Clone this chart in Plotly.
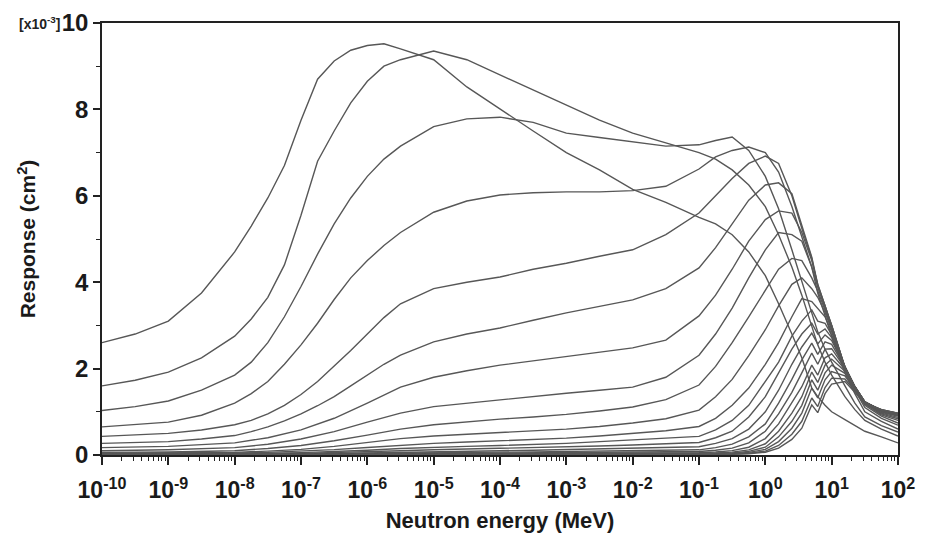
import plotly.graph_objects as go

# log10 of neutron energy (MeV): fine grid (used by the six upper curves)
LOG_E_FINE = [-10, -9.5, -9, -8.5, -8, -7.75, -7.5, -7.25, -7, -6.75, -6.5, -6.25, -6, -5.75,
              -5.5, -5, -4.5, -4, -3.5, -3, -2.5, -2, -1.5, -1, -0.75, -0.5, -0.25, 0,
              0.2, 0.4, 0.55, 0.7, 0.79, 0.9, 1.0, 1.2, 1.35, 1.5, 1.75, 2.0]
# coarser grid (used by the lower curves)
LOG_E = [-10, -9, -8, -7.5, -7, -6.5, -6, -5.5, -5, -4.5, -4, -3.5, -3, -2.5, -2, -1.5,
         -1, -0.75, -0.5, -0.25, 0, 0.2, 0.4, 0.55, 0.7, 0.79, 0.9, 1.0, 1.2, 1.35, 1.5, 1.75, 2.0]

# Responses in units of 1e-3 cm^2
C1 = [2.60, 2.80, 3.10, 3.75, 4.70, 5.30, 5.95, 6.70, 7.75, 8.70, 9.12, 9.37, 9.48, 9.52,
      9.40, 9.15, 8.52, 8.00, 7.50, 7.00, 6.60, 6.15, 5.85, 5.50, 5.35, 5.10, 4.70, 4.15,
      3.50, 2.80, 2.25, 1.55, 1.35, 1.15, 1.00, 0.82, 0.68, 0.55, 0.42, 0.28]
C2 = [1.60, 1.73, 1.92, 2.25, 2.75, 3.15, 3.65, 4.40, 5.55, 6.80, 7.50, 8.15, 8.65, 9.00,
      9.15, 9.35, 9.15, 8.80, 8.45, 8.10, 7.75, 7.45, 7.22, 7.00, 6.85, 6.60, 6.25, 5.75,
      5.10, 4.35, 3.70, 2.95, 2.55, 2.15, 1.85, 1.35, 1.05, 0.80, 0.60, 0.44]
C3 = [1.03, 1.12, 1.25, 1.50, 1.85, 2.15, 2.60, 3.20, 3.90, 4.65, 5.35, 5.95, 6.45, 6.85,
      7.15, 7.60, 7.78, 7.82, 7.70, 7.45, 7.35, 7.25, 7.15, 7.18, 7.28, 7.36, 7.05, 6.45,
      5.70, 4.75, 4.00, 3.25, 2.85, 2.45, 2.15, 1.60, 1.20, 0.88, 0.68, 0.53]
C4 = [0.65, 0.70, 0.76, 0.92, 1.20, 1.42, 1.70, 2.10, 2.55, 3.05, 3.60, 4.10, 4.50, 4.85,
      5.15, 5.62, 5.88, 6.02, 6.07, 6.09, 6.09, 6.12, 6.22, 6.62, 6.90, 7.05, 7.13, 7.00,
      6.55, 5.75, 5.05, 4.35, 3.75, 3.25, 2.75, 1.90, 1.42, 1.00, 0.78, 0.60]
C5 = [0.43, 0.46, 0.50, 0.58, 0.70, 0.80, 0.95, 1.15, 1.40, 1.70, 2.05, 2.42, 2.80, 3.18,
      3.50, 3.85, 4.00, 4.12, 4.30, 4.44, 4.60, 4.75, 5.10, 5.60, 6.00, 6.40, 6.75, 6.92,
      6.75, 6.00, 5.25, 4.55, 3.90, 3.45, 2.95, 1.98, 1.50, 1.10, 0.85, 0.69]
C6 = [0.27, 0.29, 0.31, 0.37, 0.45, 0.54, 0.65, 0.79, 0.95, 1.14, 1.35, 1.60, 1.85, 2.10,
      2.31, 2.62, 2.80, 2.94, 3.12, 3.29, 3.44, 3.59, 3.85, 4.33, 4.80, 5.35, 5.90, 6.25,
      6.30, 6.05, 5.30, 4.58, 3.95, 3.45, 3.00, 2.02, 1.55, 1.15, 0.90, 0.74]

C7 = [0.17, 0.20, 0.28, 0.40, 0.58, 0.85, 1.20, 1.57, 1.80, 1.95, 2.08, 2.18, 2.27, 2.37, 2.48, 2.66, 3.22, 3.70, 4.30, 4.95, 5.45, 5.65, 5.60, 5.15, 4.50, 3.95, 3.45, 3.00, 2.02, 1.56, 1.18, 0.93, 0.80]
C8 = [0.10, 0.12, 0.17, 0.25, 0.37, 0.54, 0.76, 0.97, 1.12, 1.20, 1.27, 1.35, 1.43, 1.50, 1.57, 1.80, 2.31, 2.80, 3.40, 4.10, 4.75, 5.15, 5.10, 4.95, 4.35, 3.90, 3.40, 3.00, 2.03, 1.57, 1.20, 0.95, 0.84]
C9 = [0.06, 0.07, 0.10, 0.15, 0.22, 0.33, 0.46, 0.60, 0.70, 0.77, 0.83, 0.88, 0.94, 1.02, 1.11, 1.28, 1.62, 2.05, 2.60, 3.20, 3.80, 4.30, 4.55, 4.50, 4.10, 3.80, 3.35, 2.95, 2.03, 1.58, 1.21, 0.97, 0.87]
C10 = [0.04, 0.045, 0.06, 0.09, 0.13, 0.20, 0.29, 0.38, 0.44, 0.48, 0.52, 0.56, 0.60, 0.66, 0.74, 0.84, 1.04, 1.35, 1.75, 2.30, 2.90, 3.45, 3.95, 4.10, 3.85, 3.65, 3.30, 2.90, 2.04, 1.58, 1.22, 0.99, 0.90]
C11 = [0.03, 0.034, 0.045, 0.06, 0.085, 0.125, 0.175, 0.23, 0.27, 0.30, 0.33, 0.36, 0.39, 0.44, 0.50, 0.56, 0.66, 0.85, 1.15, 1.55, 2.10, 2.60, 3.20, 3.62, 3.55, 3.40, 3.20, 2.85, 2.04, 1.58, 1.22, 1.00, 0.91]
C12 = [0.02, 0.022, 0.03, 0.04, 0.055, 0.08, 0.11, 0.15, 0.18, 0.20, 0.22, 0.24, 0.27, 0.31, 0.35, 0.39, 0.43, 0.58, 0.80, 1.15, 1.70, 2.15, 2.75, 3.10, 3.36, 3.10, 3.05, 2.78, 2.04, 1.58, 1.23, 1.01, 0.92]
C13 = [0.013, 0.015, 0.02, 0.027, 0.037, 0.053, 0.075, 0.10, 0.12, 0.135, 0.15, 0.165, 0.185, 0.21, 0.23, 0.26, 0.29, 0.40, 0.55, 0.88, 1.35, 1.90, 2.45, 2.80, 3.05, 2.80, 2.92, 2.72, 2.04, 1.58, 1.23, 1.02, 0.93]
C14 = [0.009, 0.010, 0.013, 0.018, 0.025, 0.035, 0.05, 0.068, 0.08, 0.09, 0.10, 0.11, 0.125, 0.14, 0.16, 0.175, 0.19, 0.27, 0.38, 0.60, 1.00, 1.50, 2.10, 2.50, 2.82, 2.57, 2.78, 2.65, 2.04, 1.58, 1.23, 1.02, 0.93]
C15 = [0.006, 0.007, 0.009, 0.012, 0.016, 0.023, 0.033, 0.045, 0.053, 0.06, 0.066, 0.073, 0.082, 0.092, 0.10, 0.11, 0.12, 0.17, 0.25, 0.42, 0.72, 1.20, 1.75, 2.20, 2.59, 2.33, 2.62, 2.56, 2.03, 1.58, 1.23, 1.03, 0.94]
C16 = [0.004, 0.0045, 0.006, 0.008, 0.011, 0.015, 0.021, 0.029, 0.034, 0.038, 0.042, 0.047, 0.052, 0.058, 0.065, 0.072, 0.08, 0.11, 0.16, 0.28, 0.55, 0.95, 1.45, 1.90, 2.36, 2.10, 2.45, 2.46, 2.01, 1.57, 1.23, 1.03, 0.94]
C17 = [0.003, 0.0033, 0.004, 0.0055, 0.0075, 0.010, 0.014, 0.019, 0.022, 0.025, 0.028, 0.031, 0.034, 0.038, 0.042, 0.047, 0.052, 0.07, 0.10, 0.18, 0.38, 0.72, 1.20, 1.58, 2.08, 1.85, 2.25, 2.34, 1.98, 1.56, 1.23, 1.04, 0.95]
C18 = [0.002, 0.0022, 0.0028, 0.0037, 0.005, 0.0068, 0.009, 0.012, 0.014, 0.016, 0.018, 0.020, 0.022, 0.025, 0.028, 0.031, 0.035, 0.047, 0.067, 0.12, 0.26, 0.55, 0.97, 1.35, 1.92, 1.68, 2.08, 2.22, 1.94, 1.55, 1.22, 1.04, 0.95]
C19 = [0.0015, 0.0017, 0.002, 0.0027, 0.0036, 0.005, 0.0066, 0.009, 0.010, 0.011, 0.012, 0.013, 0.015, 0.017, 0.019, 0.021, 0.024, 0.032, 0.046, 0.085, 0.18, 0.42, 0.78, 1.15, 1.74, 1.50, 1.90, 2.08, 1.89, 1.53, 1.22, 1.04, 0.96]
C20 = [0.001, 0.0011, 0.0014, 0.0018, 0.0024, 0.0033, 0.0045, 0.006, 0.007, 0.0078, 0.0085, 0.0093, 0.010, 0.011, 0.013, 0.014, 0.016, 0.022, 0.032, 0.06, 0.13, 0.31, 0.62, 0.97, 1.55, 1.32, 1.74, 1.93, 1.83, 1.51, 1.21, 1.05, 0.96]
C21 = [0.0007, 0.0008, 0.001, 0.0013, 0.0017, 0.0023, 0.003, 0.004, 0.0047, 0.0052, 0.0057, 0.0062, 0.0068, 0.0075, 0.0085, 0.0095, 0.011, 0.015, 0.022, 0.042, 0.09, 0.22, 0.48, 0.78, 1.32, 1.12, 1.56, 1.78, 1.76, 1.48, 1.20, 1.05, 0.97]
C22 = [0.0005, 0.0006, 0.0007, 0.0009, 0.0012, 0.0016, 0.0021, 0.0028, 0.0033, 0.0037, 0.004, 0.0044, 0.0048, 0.0053, 0.006, 0.0067, 0.0075, 0.01, 0.015, 0.03, 0.065, 0.16, 0.36, 0.62, 1.16, 0.98, 1.42, 1.64, 1.70, 1.45, 1.19, 1.05, 0.97]

UPPER = [C1, C2, C3, C4, C5, C6]
LOWER = [C7, C8, C9, C10, C11, C12, C13, C14, C15, C16, C17, C18, C19, C20, C21, C22]

X_TICK_EXP = list(range(-10, 3))
Y_TICKS = [0, 2, 4, 6, 8, 10]

fig = go.Figure()
for grid, group in ((LOG_E_FINE, UPPER), (LOG_E, LOWER)):
    energy = [10 ** v for v in grid]
    for c in group:
        fig.add_trace(go.Scatter(x=energy, y=c, mode="lines",
                                 line=dict(color="#575757", width=1.4),
                                 showlegend=False, hoverinfo="skip"))

minor_vals = [m * 10 ** e for e in range(-10, 2) for m in range(2, 10)]

bold = dict(family="Liberation Sans, Arial, sans-serif", color="#1a1a1a", weight="bold")

fig.update_layout(
    width=932, height=537,
    margin=dict(l=102, r=34, t=23, b=82),
    paper_bgcolor="white", plot_bgcolor="white",
    showlegend=False,
)
fig.update_xaxes(
    type="log", range=[-10, 2], automargin=False,
    tickmode="array",
    tickvals=[10 ** e for e in X_TICK_EXP],
    ticktext=[f"10<sup>{e}</sup>" for e in X_TICK_EXP],
    ticks="outside", ticklen=8, tickwidth=1.5, tickcolor="#222",
    ticklabelstandoff=6,
    minor=dict(tickmode="array", tickvals=minor_vals, ticks="outside",
               ticklen=4, tickwidth=1.2, tickcolor="#222"),
    showline=True, linecolor="#222", linewidth=1.6, mirror=True,
    showgrid=False, zeroline=False,
    tickfont=dict(size=23, **bold),
    title=dict(text="Neutron energy (MeV)", font=dict(size=22, **bold), standoff=10),
)
fig.update_yaxes(
    range=[0, 10], automargin=False,
    tickmode="array", tickvals=Y_TICKS, ticktext=[str(v) for v in Y_TICKS],
    ticks="outside", ticklen=7, tickwidth=1.5, tickcolor="#222",
    minor=dict(dtick=1, ticks="outside", ticklen=4, tickwidth=1.2, tickcolor="#222"),
    showline=True, linecolor="#222", linewidth=1.6, mirror=True,
    showgrid=False, zeroline=False,
    tickfont=dict(size=24, **bold),
    title=dict(text="Response (cm<sup>2</sup>)", font=dict(size=21, **bold), standoff=20),
)
fig.add_annotation(
    text="[x10<sup>-3</sup>]", xref="paper", yref="paper", x=-0.05, y=1.0,
    xanchor="right", yanchor="middle", showarrow=False,
    font=dict(family="Liberation Sans, Arial, sans-serif", size=14, color="#222", weight="bold"),
)

fig.write_html("out.html", config={"displayModeBar": False},
               post_script="document.body.style.margin='0';")
